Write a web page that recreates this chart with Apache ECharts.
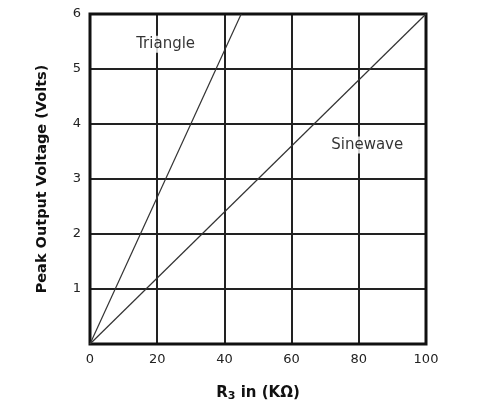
<!DOCTYPE html>
<html>
<head>
<meta charset="utf-8">
<script src="https://cdn.jsdelivr.net/npm/echarts@6/dist/echarts.min.js"></script>
<style>html,body{margin:0;padding:0;background:#fff}#c{width:478px;height:407px}</style>
</head>
<body>
<div id="c"></div>
<script>
var xTicks = [0, 20, 40, 60, 80, 100];
var yTicks = [1, 2, 3, 4, 5, 6];
var triangleData = [[0, 0], [45, 6]];
var sinewaveData = [[0, 0], [100, 6]];
var labelNames = ['Triangle', 'Sinewave'];
var labelPos = [[22.5, 5.45], [82.5, 3.62]];

var chart = echarts.init(document.getElementById('c'));
var font = 'DejaVu Sans, sans-serif';
chart.setOption({
  animation: false,
  grid: {left: 90, right: 52, top: 14, bottom: 63},
  xAxis: {
    type: 'value', min: 0, max: 100, interval: 20,
    axisLine: {show: false},
    axisTick: {show: false},
    splitLine: {show: true, lineStyle: {color: '#222', width: 2}},
    axisLabel: {color: '#222', fontSize: 13, fontFamily: font, margin: 9,
      formatter: function (v) { return xTicks.indexOf(v) >= 0 ? String(v) : ''; }},
    name: '{r|R}{s|3}{r| in (KΩ)}',
    nameLocation: 'middle', nameGap: 41,
    nameTextStyle: {rich: {
      r: {fontSize: 15, fontWeight: 'bold', color: '#111', fontFamily: font},
      s: {fontSize: 11, fontWeight: 'bold', color: '#111', fontFamily: font, padding: [6, 0, 0, 0]}
    }}
  },
  yAxis: {
    type: 'value', min: 0, max: 6, interval: 1,
    axisLine: {show: false},
    axisTick: {show: false},
    splitLine: {show: true, lineStyle: {color: '#222', width: 2}},
    axisLabel: {color: '#222', fontSize: 13, fontFamily: font, margin: 9,
      formatter: function (v) { return yTicks.indexOf(v) >= 0 ? String(v) : ''; }},
    name: 'Peak Output Voltage (Volts)',
    nameLocation: 'middle', nameGap: 40,
    nameTextStyle: {fontSize: 14.5, fontWeight: 'bold', color: '#111', fontFamily: font}
  },
  series: [
    {type: 'line', data: triangleData, symbol: 'none', lineStyle: {color: '#333', width: 1.2}},
    {type: 'line', data: sinewaveData, symbol: 'none', lineStyle: {color: '#333', width: 1.2},
      markArea: {silent: true, itemStyle: {color: 'transparent', borderColor: '#111', borderWidth: 3},
        data: [[{coord: [0, 0]}, {coord: [100, 6]}]]}},
    {type: 'scatter', symbolSize: 0, z: 10,
      data: labelPos.map(function (p, i) { return {value: p, name: labelNames[i]}; }),
      label: {show: true, position: 'inside', formatter: '{b}', color: '#000', fontSize: 15,
        fontFamily: font, backgroundColor: '#fff', padding: [1, 2]}}
  ]
});
</script>
</body>
</html>
